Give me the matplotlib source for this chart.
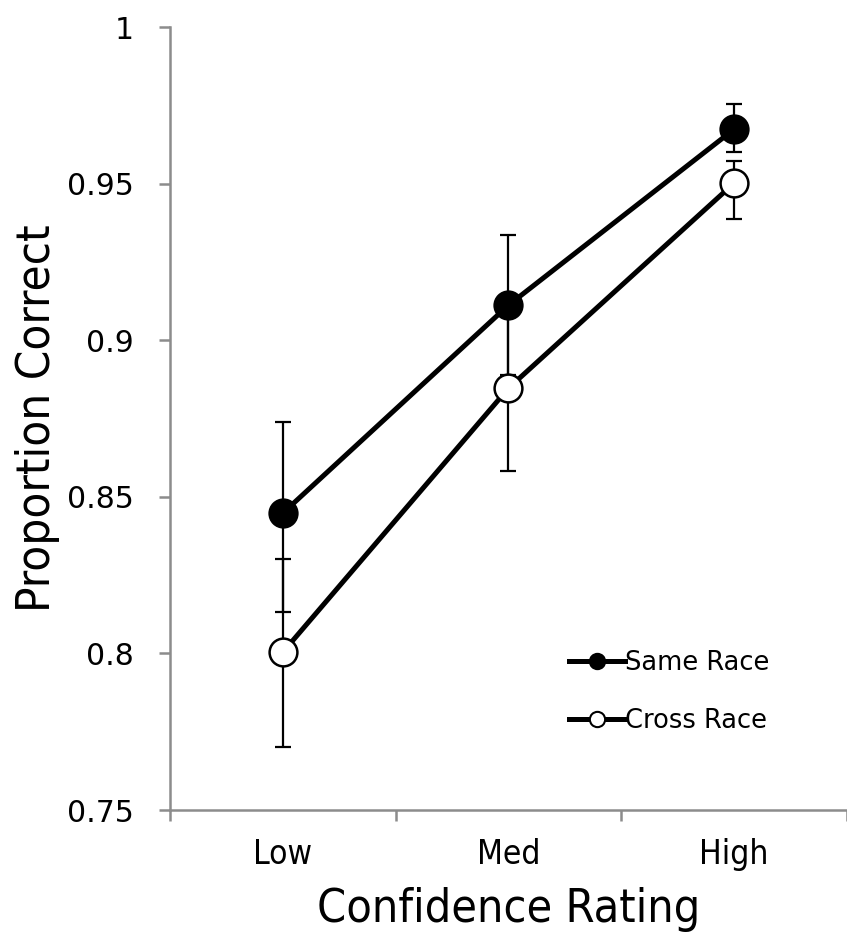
import numpy as np
import matplotlib
matplotlib.use('Agg')
from matplotlib import pyplot as plt

# values
categories = ['Low', 'Med', 'High']
same_race = [0.8448, 0.9112, 0.9674]
same_err_lo = [0.0316, 0.0224, 0.0073]
same_err_hi = [0.0291, 0.0224, 0.0080]
cross_race = [0.8004, 0.8847, 0.9502]
cross_err_lo = [0.0303, 0.0265, 0.0115]
cross_err_hi = [0.0297, 0.0265, 0.0070]
y_ticks = [0.75, 0.8, 0.85, 0.9, 0.95, 1.0]
y_tick_labels = ['0.75', '0.8', '0.85', '0.9', '0.95', '1']

grey = '#8c8c8c'

fig = plt.figure(figsize=(8.47, 9.33), dpi=100)
ax = fig.add_axes([0.2007, 0.1318, 0.7993, 0.8392])

x = np.arange(1, len(categories) + 1)

for vals, lo, hi, face, name in [(same_race, same_err_lo, same_err_hi, 'black', 'Same Race'),
                                 (cross_race, cross_err_lo, cross_err_hi, 'white', 'Cross Race')]:
    ax.plot(x, vals, color='black', lw=3.6, zorder=2, solid_capstyle='butt')
    ax.errorbar(x, vals, yerr=[lo, hi], fmt='none', ecolor='black',
                elinewidth=1.6, capsize=5.5, capthick=1.6, zorder=3)
    ax.plot(x, vals, ls='none', marker='o', ms=20, mfc=face, mec='black',
            mew=1.8, zorder=4)
    ax.plot([], [], color='black', lw=3.6, marker='o', ms=11, mfc=face,
            mec='black', mew=1.5, label=name)

ax.set_xlim(0.5, 3.47)
ax.set_ylim(0.75, 1.0)

ax.set_yticks(y_ticks)
ax.set_yticklabels(y_tick_labels)
ax.set_xticks(x)
ax.set_xticklabels(categories, fontsize=24, fontstretch='condensed')
ax.set_xticks([0.5, 1.5, 2.5, 3.5], minor=True)
ax.tick_params(axis='x', which='major', length=0, pad=20)
ax.tick_params(axis='x', which='minor', length=8, width=1.8, color=grey)
ax.tick_params(axis='y', length=8, width=1.8, color=grey, labelsize=21.5, pad=18)

for s in ['top', 'right']:
    ax.spines[s].set_visible(False)
for s in ['left', 'bottom']:
    ax.spines[s].set_color(grey)
    ax.spines[s].set_linewidth(1.8)

ax.set_ylabel('Proportion Correct', fontsize=34, fontstretch='condensed', labelpad=5)
ax.set_xlabel('Confidence Rating', fontsize=33.5, fontstretch='condensed', labelpad=12)

leg = ax.legend(loc='lower left', bbox_to_anchor=(0.555, 0.068), frameon=False,
                fontsize=18.5, handlelength=2.2, handletextpad=0.0,
                labelspacing=1.25)

fig.savefig('out.png', dpi=100)
